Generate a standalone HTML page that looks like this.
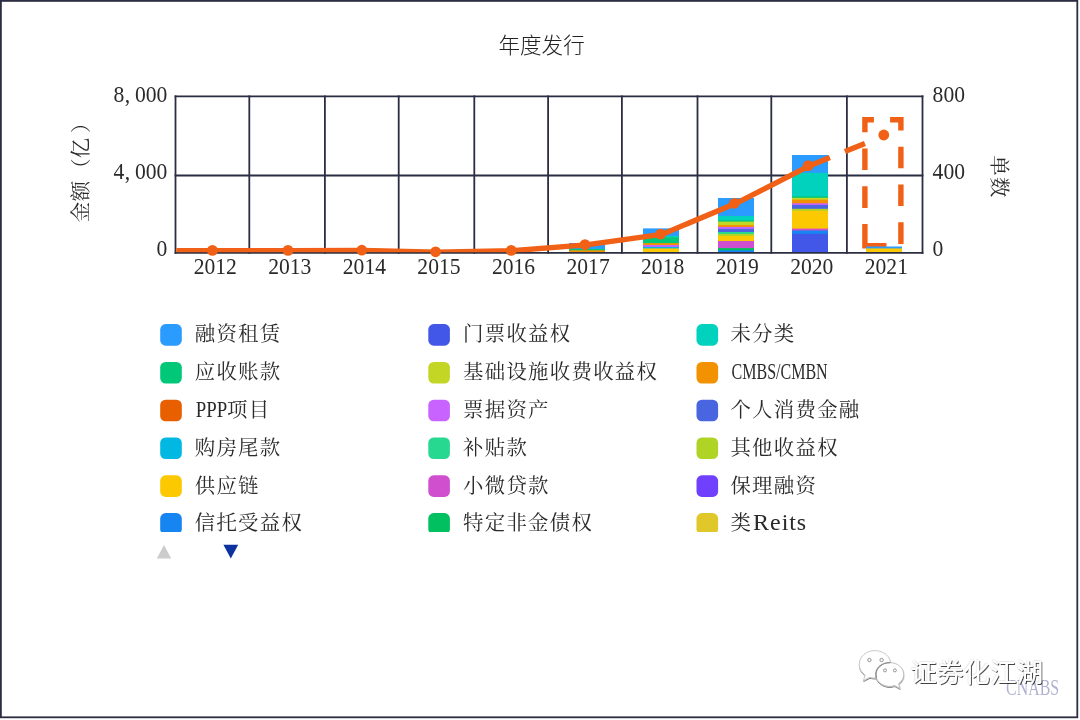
<!DOCTYPE html>
<html lang="zh-CN">
<head>
<meta charset="utf-8">
<title>年度发行</title>
<style>
html,body{margin:0;padding:0;background:#fff;}
body{width:1080px;height:720px;overflow:hidden;position:relative;}
svg{display:block;position:absolute;left:0;top:0;}
text{font-family:"Liberation Serif", "Noto Serif CJK SC", serif;font-size:21.6px;fill:#2a2a2a;font-weight:400;}
.sans{font-family:"Liberation Sans", "Noto Sans CJK SC", sans-serif;}
.c{font-size:20.4px;letter-spacing:1.3px;}
</style>
</head>
<body>
<svg width="1080" height="720" viewBox="0 0 1080 720">

<rect x="0.9" y="0.9" width="1076.4" height="716.4" fill="#fff" stroke="#2b2e42" stroke-width="1.8"/>
<defs><filter id="soft" x="0" y="0" width="1080" height="720" filterUnits="userSpaceOnUse"><feGaussianBlur stdDeviation="0.42"/></filter></defs>
<g filter="url(#soft)">
<text class="sans" x="541.6" y="53" text-anchor="middle" style="fill:#222;font-weight:300">年度发行</text>
<g stroke="#2b2e42" stroke-width="1.8" fill="none">
<line x1="175.5" y1="95.4" x2="175.5" y2="253.8"/>
<line x1="249.3" y1="95.4" x2="249.3" y2="253.8"/>
<line x1="324.9" y1="95.4" x2="324.9" y2="253.8"/>
<line x1="398.7" y1="95.4" x2="398.7" y2="253.8"/>
<line x1="474.3" y1="95.4" x2="474.3" y2="253.8"/>
<line x1="548.1" y1="95.4" x2="548.1" y2="253.8"/>
<line x1="621.9" y1="95.4" x2="621.9" y2="253.8"/>
<line x1="697.5" y1="95.4" x2="697.5" y2="253.8"/>
<line x1="771.3" y1="95.4" x2="771.3" y2="253.8"/>
<line x1="846.9" y1="95.4" x2="846.9" y2="253.8"/>
<line x1="922.5" y1="95.4" x2="922.5" y2="253.8"/>
<line x1="174.6" y1="96.3" x2="923.4" y2="96.3"/>
<line x1="174.6" y1="175.5" x2="923.4" y2="175.5"/>
<line x1="174.6" y1="252.9" x2="923.4" y2="252.9"/>
</g>
<text transform="translate(113.40,101.60) scale(0.9310,1)" x="0.00 12.24 23.20 34.80 46.40" y="0" style="font-size:23.2px">8,000</text>
<text transform="translate(113.40,179.30) scale(0.9310,1)" x="0.00 12.24 23.20 34.80 46.40" y="0" style="font-size:23.2px">4,000</text>
<text transform="translate(156.60,256.00) scale(0.9310,1)" x="0.00" y="0" style="font-size:23.2px">0</text>
<text transform="translate(932.60,101.60) scale(0.9310,1)" x="0.00 11.60 23.20" y="0" style="font-size:23.2px">800</text>
<text transform="translate(932.60,179.30) scale(0.9310,1)" x="0.00 11.60 23.20" y="0" style="font-size:23.2px">400</text>
<text transform="translate(932.60,256.00) scale(0.9310,1)" x="0.00" y="0" style="font-size:23.2px">0</text>
<text transform="translate(193.65,273.90) scale(0.9310,1)" x="0.00 11.60 23.20 34.80" y="0" style="font-size:23.2px">2012</text>
<text transform="translate(268.22,273.90) scale(0.9310,1)" x="0.00 11.60 23.20 34.80" y="0" style="font-size:23.2px">2013</text>
<text transform="translate(342.79,273.90) scale(0.9310,1)" x="0.00 11.60 23.20 34.80" y="0" style="font-size:23.2px">2014</text>
<text transform="translate(417.36,273.90) scale(0.9310,1)" x="0.00 11.60 23.20 34.80" y="0" style="font-size:23.2px">2015</text>
<text transform="translate(491.93,273.90) scale(0.9310,1)" x="0.00 11.60 23.20 34.80" y="0" style="font-size:23.2px">2016</text>
<text transform="translate(566.50,273.90) scale(0.9310,1)" x="0.00 11.60 23.20 34.80" y="0" style="font-size:23.2px">2017</text>
<text transform="translate(641.07,273.90) scale(0.9310,1)" x="0.00 11.60 23.20 34.80" y="0" style="font-size:23.2px">2018</text>
<text transform="translate(715.64,273.90) scale(0.9310,1)" x="0.00 11.60 23.20 34.80" y="0" style="font-size:23.2px">2019</text>
<text transform="translate(790.21,273.90) scale(0.9310,1)" x="0.00 11.60 23.20 34.80" y="0" style="font-size:23.2px">2020</text>
<text transform="translate(864.78,273.90) scale(0.9310,1)" x="0.00 11.60 23.20 34.80" y="0" style="font-size:23.2px">2021</text>
<text class="c" transform="translate(87.6,169.1) rotate(-90)" x="-53.2 -32.2 -9.6 10.8 36.2" y="0">金额（亿）</text>
<text class="c" transform="translate(991.9,177.0) rotate(90)" text-anchor="middle">单数</text>
<path d="M864.9 245.7H900.9V119.7H864.9Z" fill="none" stroke="#f06012" stroke-width="5.4" stroke-dasharray="21.6 16.2"/>
<g>
<rect x="569.0" y="243.0" width="36" height="9.0" fill="#2a9bff"/>
<rect x="569.0" y="248.9" width="36" height="3.1" fill="#00c878"/>
<rect x="569.0" y="250.3" width="36" height="1.7" fill="#f39200"/>
<rect x="643.0" y="228.4" width="36" height="23.6" fill="#2a9bff"/>
<rect x="643.0" y="235.9" width="36" height="16.1" fill="#00d2be"/>
<rect x="643.0" y="237.5" width="36" height="14.5" fill="#00c878"/>
<rect x="643.0" y="243.1" width="36" height="8.9" fill="#f39200"/>
<rect x="643.0" y="245.0" width="36" height="7.0" fill="#c864ff"/>
<rect x="643.0" y="246.9" width="36" height="5.1" fill="#00b8e2"/>
<rect x="643.0" y="248.4" width="36" height="3.6" fill="#fcc802"/>
<rect x="718.0" y="198.0" width="36" height="54.0" fill="#2a9bff"/>
<rect x="718.0" y="216.0" width="36" height="36.0" fill="#00d2be"/>
<rect x="718.0" y="220.3" width="36" height="31.7" fill="#00c878"/>
<rect x="718.0" y="221.6" width="36" height="30.4" fill="#c3d628"/>
<rect x="718.0" y="225.0" width="36" height="27.0" fill="#f39200"/>
<rect x="718.0" y="226.9" width="36" height="25.1" fill="#c864ff"/>
<rect x="718.0" y="228.9" width="36" height="23.1" fill="#4a65e0"/>
<rect x="718.0" y="232.0" width="36" height="20.0" fill="#28d890"/>
<rect x="718.0" y="233.9" width="36" height="18.1" fill="#b0d428"/>
<rect x="718.0" y="235.9" width="36" height="16.1" fill="#fcc802"/>
<rect x="718.0" y="241.0" width="36" height="11.0" fill="#cf50cf"/>
<rect x="718.0" y="248.1" width="36" height="3.9" fill="#00c060"/>
<rect x="718.0" y="250.3" width="36" height="1.7" fill="#1585f2"/>
<rect x="792.0" y="155.0" width="36" height="97.0" fill="#2a9bff"/>
<rect x="792.0" y="172.8" width="36" height="79.2" fill="#00d2be"/>
<rect x="792.0" y="196.3" width="36" height="55.7" fill="#00c878"/>
<rect x="792.0" y="197.8" width="36" height="54.2" fill="#c3d628"/>
<rect x="792.0" y="199.7" width="36" height="52.3" fill="#f39200"/>
<rect x="792.0" y="203.3" width="36" height="48.7" fill="#c864ff"/>
<rect x="792.0" y="205.0" width="36" height="47.0" fill="#4a65e0"/>
<rect x="792.0" y="208.8" width="36" height="43.2" fill="#b0d428"/>
<rect x="792.0" y="210.8" width="36" height="41.2" fill="#fcc802"/>
<rect x="792.0" y="228.6" width="36" height="23.4" fill="#cf50cf"/>
<rect x="792.0" y="230.5" width="36" height="21.5" fill="#1585f2"/>
<rect x="792.0" y="233.8" width="36" height="18.2" fill="#4356e8"/>
<rect x="866.0" y="246.5" width="36" height="5.5" fill="#2a9bff"/>
<rect x="866.0" y="248.4" width="36" height="3.6" fill="#fcc802"/>
</g>
<defs><clipPath id="gridclip"><rect x="176.2" y="90" width="746" height="162.2"/></clipPath></defs>
<path d="M176.2 250.7L213.5 250.7L289.1 250.7L362.9 250.5L436.7 252.1L512.3 250.7L586.1 244.9L661.7 234.4L735.5 203.6L809.3 165.9" fill="none" stroke="#f06012" stroke-width="5.4" stroke-linejoin="round" clip-path="url(#gridclip)"/>
<path d="M809.3 165.9L884.9 135.3" fill="none" stroke="#f06012" stroke-width="5.4" stroke-dasharray="21.6 16.2" stroke-dashoffset="-0.6"/>
<circle cx="212.4" cy="250.4" r="5.4" fill="#f06012"/>
<circle cx="288.0" cy="250.4" r="5.4" fill="#f06012"/>
<circle cx="361.8" cy="250.2" r="5.4" fill="#f06012"/>
<circle cx="435.6" cy="251.8" r="5.4" fill="#f06012"/>
<circle cx="511.2" cy="250.4" r="5.4" fill="#f06012"/>
<circle cx="585.0" cy="244.6" r="5.4" fill="#f06012"/>
<circle cx="660.6" cy="234.1" r="5.4" fill="#f06012"/>
<circle cx="734.4" cy="203.3" r="5.4" fill="#f06012"/>
<circle cx="808.2" cy="165.6" r="5.4" fill="#f06012"/>
<circle cx="883.8" cy="135.0" r="5.4" fill="#f06012"/>
<defs><clipPath id="legclip"><rect x="140" y="310" width="800" height="221.8"/></clipPath></defs>
<g clip-path="url(#legclip)">
<rect x="160.2" y="324.1" width="21.6" height="21.6" rx="5.4" fill="#2a9bff"/>
<text y="341.3"><tspan class="c" x="194.7">融资租赁</tspan></text>
<rect x="160.2" y="361.9" width="21.6" height="21.6" rx="5.4" fill="#00c878"/>
<text y="379.1"><tspan class="c" x="194.7">应收账款</tspan></text>
<rect x="160.2" y="399.7" width="21.6" height="21.6" rx="5.4" fill="#e85e06"/>
<text y="416.9"><tspan x="195.8" textLength="31.4" lengthAdjust="spacingAndGlyphs" style="font-size:24px">PPP</tspan><tspan class="c" x="227.1">项目</tspan></text>
<rect x="160.2" y="437.5" width="21.6" height="21.6" rx="5.4" fill="#00b8e2"/>
<text y="454.7"><tspan class="c" x="194.7">购房尾款</tspan></text>
<rect x="160.2" y="475.3" width="21.6" height="21.6" rx="5.4" fill="#fcc802"/>
<text y="492.5"><tspan class="c" x="194.7">供应链</tspan></text>
<rect x="160.2" y="513.1" width="21.6" height="21.6" rx="5.4" fill="#1585f2"/>
<text y="530.3"><tspan class="c" x="194.7">信托受益权</tspan></text>
<rect x="428.3" y="324.1" width="21.6" height="21.6" rx="5.4" fill="#4356e8"/>
<text y="341.3"><tspan class="c" x="463.0">门票收益权</tspan></text>
<rect x="428.3" y="361.9" width="21.6" height="21.6" rx="5.4" fill="#c3d628"/>
<text y="379.1"><tspan class="c" x="463.0">基础设施收费收益权</tspan></text>
<rect x="428.3" y="399.7" width="21.6" height="21.6" rx="5.4" fill="#c864ff"/>
<text y="416.9"><tspan class="c" x="463.0">票据资产</tspan></text>
<rect x="428.3" y="437.5" width="21.6" height="21.6" rx="5.4" fill="#28d890"/>
<text y="454.7"><tspan class="c" x="463.0">补贴款</tspan></text>
<rect x="428.3" y="475.3" width="21.6" height="21.6" rx="5.4" fill="#cf50cf"/>
<text y="492.5"><tspan class="c" x="463.0">小微贷款</tspan></text>
<rect x="428.3" y="513.1" width="21.6" height="21.6" rx="5.4" fill="#00c060"/>
<text y="530.3"><tspan class="c" x="463.0">特定非金债权</tspan></text>
<rect x="696.5" y="324.1" width="21.6" height="21.6" rx="5.4" fill="#00d2be"/>
<text y="341.3"><tspan class="c" x="730.4">未分类</tspan></text>
<rect x="696.5" y="361.9" width="21.6" height="21.6" rx="5.4" fill="#f39200"/>
<text y="379.1"><tspan x="731.5" textLength="96.2" lengthAdjust="spacingAndGlyphs" style="font-size:24px">CMBS/CMBN</tspan></text>
<rect x="696.5" y="399.7" width="21.6" height="21.6" rx="5.4" fill="#4a65e0"/>
<text y="416.9"><tspan class="c" x="730.4">个人消费金融</tspan></text>
<rect x="696.5" y="437.5" width="21.6" height="21.6" rx="5.4" fill="#b0d428"/>
<text y="454.7"><tspan class="c" x="730.4">其他收益权</tspan></text>
<rect x="696.5" y="475.3" width="21.6" height="21.6" rx="5.4" fill="#7040ff"/>
<text y="492.5"><tspan class="c" x="730.4">保理融资</tspan></text>
<rect x="696.5" y="513.1" width="21.6" height="21.6" rx="5.4" fill="#e0c82c"/>
<text y="530.3"><tspan class="c" x="730.4">类</tspan><tspan x="753.1" textLength="53.1" lengthAdjust="spacing" style="font-size:24px">Reits</tspan></text>
</g>
<path d="M156.8 558.6L171.2 558.6L164 545Z" fill="#cccccc"/>
<path d="M223.4 544.8L238.2 544.8L230.8 558.6Z" fill="#0a32a0"/>
<text y="695.3" style="fill:#b0b3d0"><tspan x="1006.1" textLength="53.0" lengthAdjust="spacingAndGlyphs" style="font-size:24px">CNABS</tspan></text>
<defs><filter id="emb" x="-10%" y="-10%" width="120%" height="130%"><feDropShadow dx="0.9" dy="0.9" stdDeviation="0.45" flood-color="#000" flood-opacity="0.8"/></filter><filter id="emb2" x="-10%" y="-10%" width="120%" height="130%"><feDropShadow dx="-0.5" dy="-0.5" stdDeviation="0.4" flood-color="#000" flood-opacity="0.16"/></filter></defs>
<defs><filter id="ish" x="-10%" y="-10%" width="120%" height="130%"><feDropShadow dx="0.15" dy="0.9" stdDeviation="0.45" flood-color="#000" flood-opacity="0.6"/></filter><clipPath id="bigclip"><path d="M875 650.6c-8.7 0-15.7 6.1-15.7 13.7 0 4.3 2.3 8.2 5.9 10.7l-1.7 5.6 6.3-3.3c1.7 0.5 3.4 0.7 5.2 0.7 8.7 0 15.7-6.1 15.7-13.7s-7-13.7-15.7-13.7z"/></clipPath></defs>
<g filter="url(#ish)"><path fill="#fff" stroke="#c6c6c6" stroke-width="0.9" d="M875 650.6c-8.7 0-15.7 6.1-15.7 13.7 0 4.3 2.3 8.2 5.9 10.7l-1.7 5.6 6.3-3.3c1.7 0.5 3.4 0.7 5.2 0.7 8.7 0 15.7-6.1 15.7-13.7s-7-13.7-15.7-13.7z"/></g>
<g filter="url(#ish)"><path fill="#fff" stroke="#bcbcbc" stroke-width="0.9" d="M889.8 662.6c7.7 0 13.9 5.3 13.9 11.9 0 3.7-2 7.1-5.2 9.3l1.5 4.6-5.3-2.8c-1.5 0.5-3.2 0.8-4.9 0.8-7.7 0-13.9-5.3-13.9-11.9s6.2-11.9 13.9-11.9z"/></g>
<path clip-path="url(#bigclip)" fill="none" stroke="#8c8c8c" stroke-width="1.3" d="M889.8 662.6c7.7 0 13.9 5.3 13.9 11.9 0 3.7-2 7.1-5.2 9.3l1.5 4.6-5.3-2.8c-1.5 0.5-3.2 0.8-4.9 0.8-7.7 0-13.9-5.3-13.9-11.9s6.2-11.9 13.9-11.9z"/>
<g fill="#fff" stroke="#8a8a8a" stroke-width="0.9"><circle cx="869.4" cy="660" r="1.7"/><circle cx="881.6" cy="660" r="1.7"/><circle cx="885" cy="670.4" r="1.5"/><circle cx="894.9" cy="670.4" r="1.5"/></g>
<g filter="url(#emb2)"><text class="sans" x="910.2" y="682.4" filter="url(#emb)" style="fill:#fff;font-size:26.6px;font-weight:400">证券化江湖</text></g>
</g>
</svg>
</body>
</html>
